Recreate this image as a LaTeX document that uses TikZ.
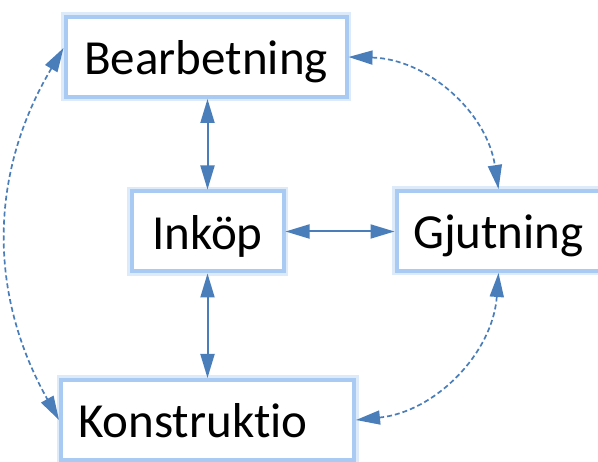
\documentclass[tikz,border=0pt]{standalone}
\usepackage{fontspec}
\setmainfont{Carlito}[Ligatures=NoCommon]
\usetikzlibrary{arrows.meta, positioning}
\definecolor{linkblue}{HTML}{4A7EBB}
\definecolor{glowblue}{HTML}{A9CAF2}

\begin{document}
\begin{tikzpicture}[x=1pt, y=1pt,
    dept/.style={draw=glowblue, line width=4pt, fill=white,
                 preaction={draw=glowblue!40, line width=9pt},
                 minimum height=80pt, inner sep=0pt,
                 text height=46pt, text depth=10pt,
                 font=\fontsize{49}{56}\selectfont},
    link/.style={draw=linkblue, line width=2pt,
                 {Triangle[length=24pt, width=14pt]}-{Triangle[length=24pt, width=14pt]}},
    loose/.style={link, line width=1.7pt, dash pattern=on 5pt off 3pt},
]
    \useasboundingbox (0,0) rectangle (598,-462);

    \node[dept, minimum width=281pt] (bear) at (206,-57) {Bearbetning};
    \node[dept, minimum width=152pt] (inkop) at (207.5,-231.5) {Inköp};
    \node[dept, minimum width=204pt] (gjut) at (498.5,-231) {Gjutning};
    \node[dept, text width=259pt, inner xsep=17pt, align=left] (konst) at (207.5,-420) {Konstruktio};

    % solid links around Inköp
    \draw[link] (bear.south -| inkop) -- (inkop.north);
    \draw[link] (inkop.south) -- (konst.north -| inkop);
    \draw[link] (inkop.east) -- (gjut.west |- inkop);

    % dashed links along the outside
    \draw[loose] ([yshift=9pt]bear.west) to[bend right=30] (konst.west);
    \draw[loose] (bear.east) to[bend left=40] (gjut.north);
    \draw[loose] (gjut.south) to[bend left=40] (konst.east);
\end{tikzpicture}
\end{document}
